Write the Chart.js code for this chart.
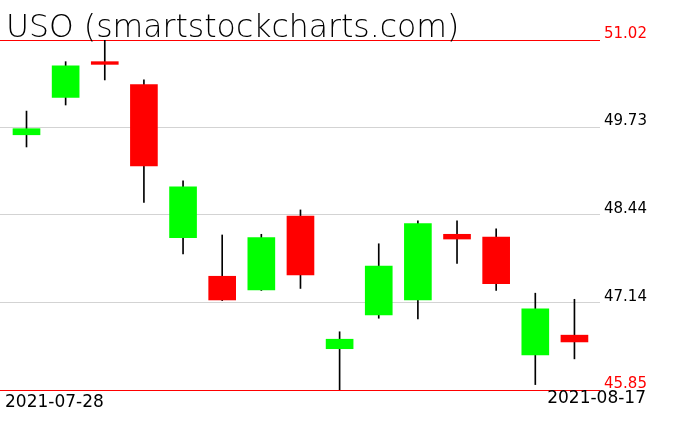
<!DOCTYPE html>
<html>
<head>
<meta charset="utf-8">
<script src="https://cdn.jsdelivr.net/npm/chart.js@4/dist/chart.umd.min.js"></script>
<style>
  html, body { margin: 0; padding: 0; background: #fff; }
  canvas { display: block; }
</style>
</head>
<body>
<canvas id="chart" width="676" height="431"></canvas>
<script>
// USO daily candles
const dates = ['2021-07-28', '2021-07-29', '2021-07-30', '2021-08-02', '2021-08-03',
  '2021-08-04', '2021-08-05', '2021-08-06', '2021-08-09', '2021-08-10',
  '2021-08-11', '2021-08-12', '2021-08-13', '2021-08-16', '2021-08-17'];
const opens  = [49.62, 50.17, 50.70, 50.36, 48.10, 47.53, 47.33, 48.42, 46.46, 46.96, 47.18, 48.15, 48.11, 46.37, 46.66];
const highs  = [49.97, 50.70, 51.02, 50.43, 48.94, 48.14, 48.15, 48.51, 46.71, 48.01, 48.35, 48.35, 48.23, 47.28, 47.19];
const lows   = [49.44, 50.06, 50.43, 48.62, 47.86, 47.17, 47.32, 47.35, 45.85, 46.91, 46.90, 47.72, 47.32, 45.93, 46.31];
const closes = [49.71, 50.64, 50.66, 49.16, 48.85, 47.18, 48.10, 47.55, 46.60, 47.68, 48.31, 48.08, 47.42, 47.05, 46.56];
const yTicks = [45.85, 47.14, 48.44, 49.73, 51.02];
const title = 'USO (smartstockcharts.com)';

const UP = '#00ff00';
const DOWN = '#ff0000';

const bodies = dates.map((d, i) => ({ x: i, y: [opens[i], closes[i]] }));
const wicks = dates.map((d, i) => ({ x: i, y: [lows[i], highs[i]] }));
const bodyColors = dates.map((d, i) => closes[i] >= opens[i] ? UP : DOWN);

// title and the two end dates
const textPlugin = {
  id: 'texts',
  afterDraw(chart) {
    const ctx = chart.ctx;
    ctx.save();
    ctx.fillStyle = '#000';
    ctx.textBaseline = 'alphabetic';
    ctx.font = '200 31.5px "DejaVu Sans"';
    ctx.textAlign = 'left';
    ctx.fillText(title, 6, 37);
    ctx.font = '17px "DejaVu Sans"';
    ctx.fillText(dates[0], 5, 407);
    ctx.textAlign = 'right';
    ctx.fillText(dates[dates.length - 1], 646, 403);
    ctx.restore();
  }
};

const isEdge = v => v === yTicks[0] || v === yTicks[yTicks.length - 1];

new Chart(document.getElementById('chart'), {
  type: 'bar',
  data: {
    datasets: [
      {
        label: 'body',
        data: bodies,
        backgroundColor: bodyColors,
        barThickness: 27,
        grouped: false,
        order: 0
      },
      {
        label: 'wick',
        data: wicks,
        backgroundColor: '#000',
        barThickness: 1,
        grouped: false,
        order: 1
      }
    ]
  },
  options: {
    responsive: false,
    animation: false,
    layout: { padding: { top: 40, bottom: 41, left: 0, right: 0 } },
    plugins: {
      legend: { display: false },
      tooltip: { enabled: false }
    },
    scales: {
      x: {
        type: 'linear',
        display: false,
        offset: false,
        min: -0.677,
        max: 14.653
      },
      y: {
        position: 'right',
        min: yTicks[0],
        max: yTicks[yTicks.length - 1],
        afterBuildTicks: scale => { scale.ticks = yTicks.map(v => ({ value: v })); },
        afterFit: scale => { scale.width = 76; },
        border: { display: false },
        grid: {
          drawTicks: false,
          lineWidth: 1,
          color: c => isEdge(c.tick.value) ? DOWN : '#d3d3d3'
        },
        ticks: {
          padding: 4,
          labelOffset: -6,
          font: { family: 'DejaVu Sans', size: 15 },
          color: c => isEdge(c.tick.value) ? DOWN : '#000',
          callback: v => Number(v).toFixed(2)
        }
      }
    }
  },
  plugins: [textPlugin]
});
</script>
</body>
</html>
